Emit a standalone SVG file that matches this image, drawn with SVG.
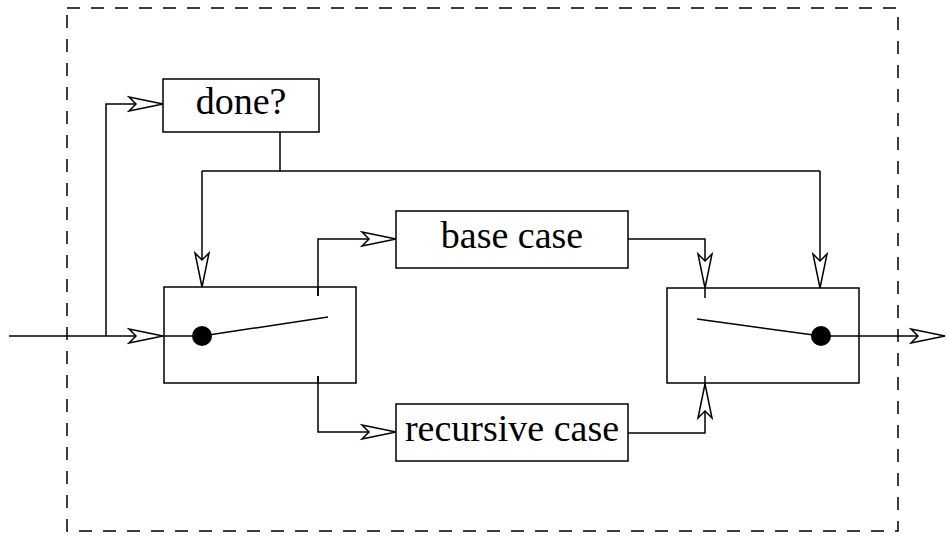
<svg xmlns="http://www.w3.org/2000/svg" width="946" height="540" viewBox="0 0 946 540">
<style>
.ln{fill:none;stroke:#000;stroke-width:1.5}
.bx{fill:#fff;stroke:#000;stroke-width:1.5}
.sw{fill:none;stroke:#000;stroke-width:1.5}
.tx{font-size:38px;fill:#000;text-anchor:middle}
.brd{fill:none;stroke:#000;stroke-width:1.5;stroke-dasharray:13 11}
</style>
<defs>
<marker id="arr" markerUnits="userSpaceOnUse" markerWidth="40" markerHeight="20" refX="0" refY="0" orient="auto" overflow="visible">
<path d="M0,0 L-34,-7 L-27,0 L-34,7 Z" fill="#fff" stroke="#000" stroke-width="1.5" stroke-linejoin="miter"/>
</marker>
</defs>
<rect class="brd" x="67" y="8" width="831" height="523"/>
<g id="connectors">
<path class="ln" d="M9,336 H163" marker-end="url(#arr)"/>
<path class="ln" d="M106,336 V104 H163" marker-end="url(#arr)"/>
<path class="ln" d="M280,132 V171"/>
<path class="ln" d="M202,171 H820"/>
<path class="ln" d="M202,171 V287" marker-end="url(#arr)"/>
<path class="ln" d="M820,171 V288" marker-end="url(#arr)"/>
<path class="ln" d="M318,296 V239 H396" marker-end="url(#arr)"/>
<path class="ln" d="M318,376 V432 H396" marker-end="url(#arr)"/>
<path class="ln" d="M628,239 H705 V288" marker-end="url(#arr)"/>
<path class="ln" d="M628,433 H705 V384" marker-end="url(#arr)"/>
<path class="ln" d="M821,336 H945" marker-end="url(#arr)"/>
</g>
<g id="done">
<rect class="bx" x="163" y="79" width="156" height="53"/>
<text class="tx" font-family="Liberation Serif, Times New Roman, serif" x="241" y="114">done?</text>
</g>
<g id="base">
<rect class="bx" x="396" y="211" width="232" height="57"/>
<text class="tx" font-family="Liberation Serif, Times New Roman, serif" x="512" y="248">base case</text>
</g>
<g id="recursive">
<rect class="bx" x="396" y="404" width="232" height="57"/>
<text class="tx" font-family="Liberation Serif, Times New Roman, serif" x="512" y="441">recursive case</text>
</g>
<g id="switch-in">
<rect class="sw" x="164" y="287" width="192" height="96"/>
<path class="ln" d="M164,336 H202"/>
<path class="ln" d="M318,287 V296 M318,376 V383"/>
<path class="ln" d="M202,336 L328,317"/>
<circle cx="202" cy="336" r="10" fill="#000"/>
</g>
<g id="switch-out">
<rect class="sw" x="667" y="288" width="192" height="95"/>
<path class="ln" d="M705,288 V298 M705,376 V384"/>
<path class="ln" d="M697,319 L821,336"/>
<circle cx="821" cy="336" r="10" fill="#000"/>
</g>
</svg>
